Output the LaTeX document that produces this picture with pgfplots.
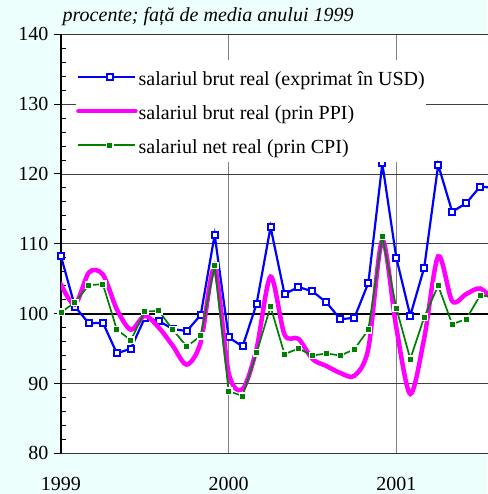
\documentclass[border=0pt]{standalone}
\usepackage{fontspec}
\setmainfont{Liberation Serif}
\usepackage{pgfplots}
\pgfplotsset{compat=1.18}
\definecolor{bgc}{RGB}{236,255,250}
\definecolor{xblue}{RGB}{0,0,255}
\definecolor{xmag}{RGB}{255,0,255}
\definecolor{xgreen}{RGB}{0,128,0}
\newcommand{\bigf}{\fontsize{20}{24}\selectfont\rmfamily}

\pgfplotstableread{
m usd ppi cpi
0 108.2 104.2 100.2
1 101.0 101.3 101.6
2 98.6 105.9 104.1
3 98.7 105.6 104.2
4 94.3 100.6 97.7
5 95.0 97.7 96.2
6 99.4 99.7 100.3
7 98.95 98.0 100.4
8 97.8 95.4 97.7
9 97.5 92.7 95.3
10 99.8 95.9 96.8
11 111.3 106.5 106.9
12 96.6 91.5 88.9
13 95.3 89.2 88.2
14 101.4 95.0 94.4
15 112.4 105.3 101.0
16 102.8 97.0 94.2
17 103.8 96.4 95.0
18 103.2 93.5 94.0
19 101.6 92.5 94.3
20 99.2 91.5 94.0
21 99.4 91.1 94.9
22 104.4 95.0 97.7
23 121.5 110.5 111.1
24 108.0 98.0 100.8
25 99.7 88.5 93.5
26 106.6 96.5 99.5
27 121.3 108.2 104.0
28 114.6 101.8 98.5
29 115.8 102.8 99.2
30 118.2 103.6 102.6
31 118.0 101.8 102.4
}\datatable

\begin{document}
\begin{tikzpicture}[x=1pt,y=1pt]
\useasboundingbox (0,0) rectangle (487,494);
\fill[bgc] (0,0) rectangle (487,494);
\begin{axis}[
  at={(61pt,40.7pt)}, anchor=south west,
  scale only axis, width=430pt, height=419pt,
  xmin=0, xmax=30.78, ymin=80, ymax=140,
  axis background/.style={fill=white},
  separate axis lines,
  x axis line style={draw=black!80, line width=1pt},
  y axis line style={draw=black, line width=1.6pt},
  xtick={0,12,24}, xticklabels={1999,2000,2001},
  xtick pos=bottom, ytick pos=left,
  ytick={80,90,...,140},
  minor y tick num=4,
  tick align=outside,
  major tick length=7pt, minor tick length=5pt,
  ytick style={black, line width=1pt},
  minor tick style={xshift=5pt},
  xtick style={draw=none},
  xmajorgrids, ymajorgrids,
  x grid style={black!50, line width=1.2pt},
  y grid style={black!75, line width=0.8pt},
  /pgf/number format/assume math mode=true,
  yticklabel style={font=\bigf, xshift=-2pt},
  xticklabel style={font=\bigf, yshift=-13pt},
  title={\textit{procente; față de media anului 1999}},
  title style={at={(0,1)}, anchor=base west, font=\bigf, inner sep=0pt, xshift=1.5pt, yshift=6.8pt},
  clip mode=individual,
  legend style={at={(0.0349,0.9387)}, anchor=north west, draw=none, fill=white,
    inner xsep=0pt, inner ysep=0pt, font=\bigf,
    nodes={text height=18pt, text depth=2pt, inner ysep=7pt, inner xsep=1pt},
    /tikz/every odd column/.append style={column sep=0pt}, row sep=0pt},
  legend cell align=left,
  legend image code/.code={\path (0pt,0pt) -- (6pt,0pt); \draw[mark repeat=2,mark phase=2] plot coordinates {(6pt,0pt) (31.5pt,0pt) (57pt,0pt)};},
]
\addplot[black, line width=2.2pt, forget plot] coordinates {(0,100) (32,100)};
\addplot[xblue, line width=2.2pt, mark=square*, mark size=3pt,
  mark options={fill=white, draw=xblue, line width=2pt, solid}] table[x=m, y=usd] {\datatable};
\addlegendentry{salariul brut real (exprimat în USD)}
\addplot[xmag, line width=4.5pt, smooth, tension=0.5, no markers, line cap=round] table[x=m, y=ppi] {\datatable};
\addlegendentry{salariul brut real (prin PPI)}
\addplot[xgreen, line width=1.7pt, mark=square*, mark size=3.2pt,
  mark options={fill=xgreen, draw=white, line width=1.4pt, solid}] table[x=m, y=cpi] {\datatable};
\addlegendentry{salariul net real (prin CPI)}
\end{axis}
\end{tikzpicture}
\end{document}
